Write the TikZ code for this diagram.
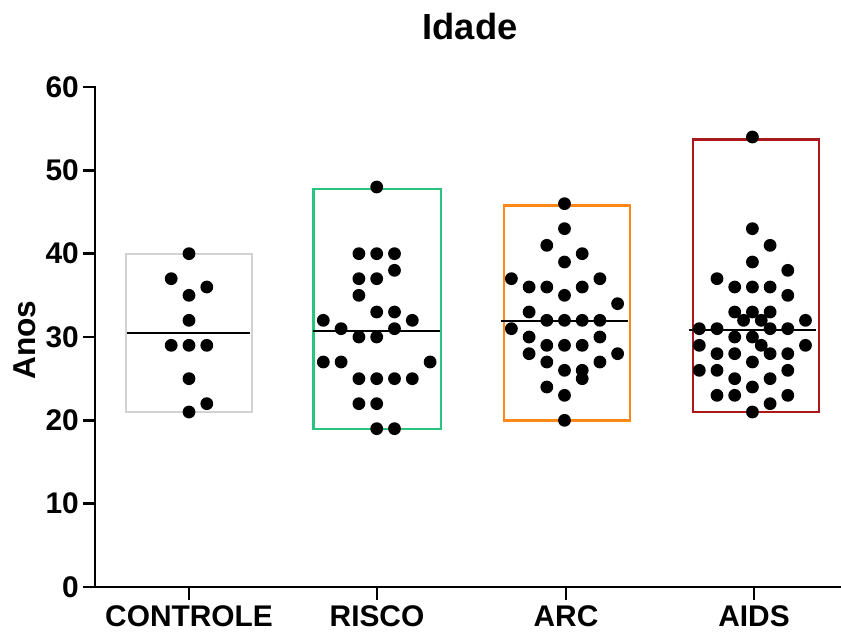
\documentclass[tikz,border=0pt]{standalone}
\usepackage{fontspec}
\setmainfont{Liberation Sans}
\definecolor{ctlgray}{RGB}{210,210,210}
\definecolor{riscogreen}{RGB}{40,196,128}
\definecolor{arcorange}{RGB}{255,136,24}
\definecolor{aidsred}{RGB}{170,24,28}
\tikzset{
  axisline/.style={line width=0.085cm, black},
  groupbox/.style={line width=0.07cm},
  meanline/.style={line width=0.07cm, black},
  dot/.style={fill=black},
  ticklab/.style={font=\fontsize{25.5}{25.5}\selectfont\bfseries, inner sep=0pt},
  catlab/.style={font=\fontsize{25.5}{25.5}\selectfont\bfseries, inner sep=0pt},
}
\newcommand{\yv}[1]{587-8.3333*#1}
\begin{document}
\begin{tikzpicture}[x=0.03cm,y=-0.03cm]
\useasboundingbox (0,0) rectangle (841,634);
% title
\node[font=\fontsize{31}{31}\selectfont\bfseries, inner sep=0pt] (title) at (470,27) {Idade};
% y label
\node[font=\fontsize{27}{27}\selectfont\bfseries, inner sep=0pt, rotate=90] (ylab) at (25,340) {Anos};
% boxes
\draw[groupbox, ctlgray] (126,{\yv{21}}) rectangle (252,{\yv{40}});
\draw[groupbox, riscogreen] (313.5,{\yv{19}}) rectangle (441,{\yv{47.8}});
\draw[groupbox, arcorange] (504,{\yv{20}}) rectangle (630,{\yv{45.8}});
\draw[groupbox, aidsred] (693,{\yv{21}}) rectangle (819,{\yv{53.7}});
% dots CONTROLE
\foreach \d/\v in {0/40,-1/37,0/35,1/36,0/32,-1/29,0/29,1/29,0/25,1/22,0/21}
  \fill[dot] ({189+17.8*\d},{\yv{\v}}) circle (6.4);
% dots RISCO
\foreach \d/\v in {0/48,-1/40,0/40,1/40,1/38,-1/37,0/37,-1/35,0/33,1/33,-3/32,2/32,-2/31,1/31,-1/30,0/30,-3/27,-2/27,3/27,-1/25,0/25,1/25,2/25,-1/22,0/22,0/19,1/19}
  \fill[dot] ({376.7+17.8*\d},{\yv{\v}}) circle (6.4);
% dots ARC
\foreach \d/\v in {0/46,0/43,-1/41,1/40,0/39,-3/37,2/37,-2/36,-1/36,1/36,0/35,3/34,-2/33,-1/32,0/32,1/32,2/32,-3/31,-2/30,2/30,-1/29,0/29,1/29,-2/28,3/28,-1/27,2/27,0/26,1/26,1/25,-1/24,0/23,0/20}
  \fill[dot] ({564.5+17.7*\d},{\yv{\v}}) circle (6.4);
% dots AIDS
\foreach \d/\v in {0/54,0/43,1/41,0/39,2/38,-2/37,-1/36,0/36,1/36,2/35,-1/33,0/33,1/33,-0.5/32,0.5/32,3/32,-3/31,-2/31,1/31,2/31,-1/30,0/30,-3/29,0.5/29,3/29,-2/28,-1/28,1/28,2/28,0/27,-3/26,-2/26,2/26,-1/25,1/25,0/24,-2/23,-1/23,2/23,1/22,0/21}
  \fill[dot] ({752.4+17.7*\d},{\yv{\v}}) circle (6.4);
% mean lines
\draw[meanline] (126.7,{\yv{30.45}}) -- (250,{\yv{30.45}});
\draw[meanline] (313,{\yv{30.74}}) -- (440,{\yv{30.74}});
\draw[meanline] (500.7,{\yv{31.9}}) -- (627.7,{\yv{31.9}});
\draw[meanline] (689,{\yv{30.83}}) -- (815.7,{\yv{30.83}});
% axes
\coordinate (o) at (95,587);
\coordinate (ytop) at (95,{\yv{60}});
\coordinate (xend) at (841,587);
\draw[axisline, line cap=rect] (ytop) -- (o) -- (xend);
\foreach \v in {0,10,...,60} {
  \draw[axisline] (83,{\yv{\v}}) -- (95,{\yv{\v}});
  \node[ticklab, anchor=east] (yt\v) at (79,{\yv{\v}}) {\v};
}
\foreach \x/\lab/\nm in {189/CONTROLE/c1,377/RISCO/c2,566/ARC/c3,754/AIDS/c4} {
  \draw[axisline] (\x,587) -- (\x,600);
  \node[catlab] (\nm) at (\x,616) {\lab};
}
\end{tikzpicture}
\end{document}
